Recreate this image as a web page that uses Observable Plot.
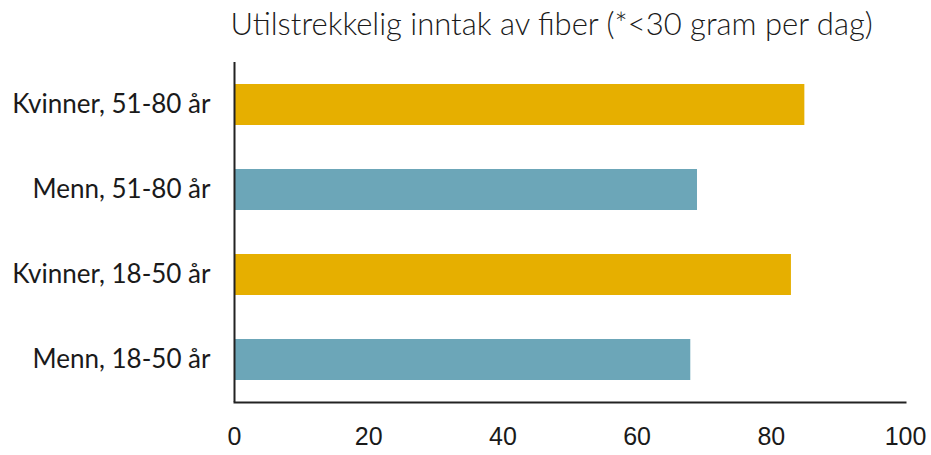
<!DOCTYPE html>
<html>
<head>
<meta charset="utf-8">
<script src="https://cdn.jsdelivr.net/npm/d3@7"></script>
<script src="https://cdn.jsdelivr.net/npm/@observablehq/plot@0.6"></script>
<style>
  html, body { margin: 0; padding: 0; background: #fff; }
  #chart svg { display: block; }
</style>
</head>
<body>
<div id="chart"></div>
<script>
const title = "Utilstrekkelig inntak av fiber (*<30 gram per dag)";
const categories = ["Kvinner, 51-80 år", "Menn, 51-80 år", "Kvinner, 18-50 år", "Menn, 18-50 år"];
const groups = ["Kvinner", "Menn", "Kvinner", "Menn"];
const values = [85, 69, 83, 68];
const xTicks = [0, 20, 40, 60, 80, 100];
const groupDomain = ["Kvinner", "Menn"];
const groupColors = ["#E6AF00", "#6CA6B8"];

const data = categories.map((c, i) => ({category: c, group: groups[i], value: values[i]}));

const chart = Plot.plot({
  width: 931,
  height: 455,
  marginLeft: 234,
  marginRight: 26,
  marginTop: 62,
  marginBottom: 53,
  style: {background: "#fff", color: "#1a1a1a"},
  x: {domain: [0, 100], axis: null, label: null},
  y: {domain: categories, paddingInner: 0.518, paddingOuter: 0.259, axis: null, label: null},
  color: {domain: groupDomain, range: groupColors},
  marks: [
    Plot.barX(data, {x: "value", y: "category", fill: "group"}),
    Plot.ruleX([0], {stroke: "#222", strokeWidth: 2}),
    Plot.frame({anchor: "bottom", stroke: "#222", strokeWidth: 2}),
    Plot.axisY({tickSize: 0, tickPadding: 24, fontSize: 26, fontFamily: "Lato", fill: "#1a1a1a", label: null}),
    Plot.axisX({ticks: xTicks, tickSize: 0, tickPadding: 25, fontSize: 25, fontFamily: "Liberation Sans", fill: "#1a1a1a", tickFormat: d => String(d), label: null}),
    Plot.text([title], {frameAnchor: "top-left", lineAnchor: "bottom", text: d => d, dx: -4, dy: -28, textAnchor: "start", fontSize: 31, fontWeight: 300, fontFamily: "Lato", fill: "#1a1a1a"})
  ]
});
document.getElementById("chart").appendChild(chart);
</script>
</body>
</html>
